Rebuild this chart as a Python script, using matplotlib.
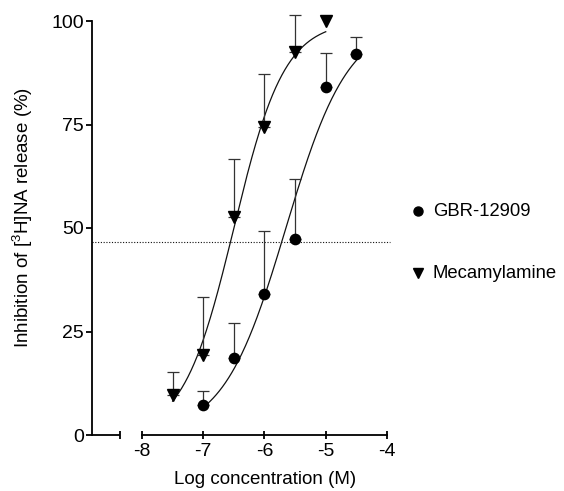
import numpy as np
import matplotlib
matplotlib.use('Agg')
import matplotlib.pyplot as plt
from matplotlib.lines import Line2D

plt.rcParams['font.family'] = ['Liberation Sans', 'DejaVu Sans']
plt.rcParams['mathtext.default'] = 'regular'

# ---- data ----
series_names = ['GBR-12909', 'Mecamylamine']
log_conc_gbr = [-7.0, -6.5, -6.0, -5.5, -5.0, -4.5]
gbr_mean = [7.2, 18.5, 34.0, 47.3, 84.0, 92.0]
gbr_sem = [3.5, 8.6, 15.3, 14.6, 8.2, 4.2]
log_conc_mec = [-7.5, -7.0, -6.5, -6.0, -5.5, -5.0]
mec_mean = [9.7, 19.3, 52.7, 74.5, 92.4, 100.0]
mec_sem = [5.6, 14.1, 14.0, 12.7, 9.1, 0.0]

# fitted sigmoid parameters: bottom, top, logEC50, Hill slope
gbr_fit = (0.0, 100.0, -5.65, 0.85)
mec_fit = (0.0, 100.0, -6.50, 1.05)
half_level = 46.7

x_ticks = [-8, -7, -6, -5, -4]
y_ticks = [0, 25, 50, 75, 100]
x_break = -8.36
x_left = -8.816


def sigmoid(x, p):
    b, t, ec, h = p
    return b + (t - b) / (1 + 10 ** ((ec - x) * h))


W, H = 564, 491
fig = plt.figure(figsize=(W / 100, H / 100), dpi=100)
ax = fig.add_axes([92 / W, (H - 435) / H, (387 - 92) / W, (435 - 21) / H])

ax.set_xlim(x_left, -4)
ax.set_ylim(0, 100)

ink = '#111111'
for xs, m, e, fit, mk, ms in [
    (log_conc_gbr, gbr_mean, gbr_sem, gbr_fit, 'o', 7.4),
    (log_conc_mec, mec_mean, mec_sem, mec_fit, 'v', 8.0),
]:
    xs = np.array(xs); m = np.array(m); e = np.array(e)
    xc = np.linspace(xs.min(), xs.max(), 200)
    ax.plot(xc, sigmoid(xc, fit), color=ink, lw=0.9, clip_on=False, zorder=2)
    sel = e > 0
    ax.errorbar(xs[sel], m[sel], yerr=[np.zeros(sel.sum()), e[sel]], fmt='none',
                ecolor='#333333', elinewidth=0.9, capsize=4, capthick=0.9,
                clip_on=False, zorder=2)
    ax.plot(xs, m, linestyle='none', marker=mk, markersize=ms, color='black',
            clip_on=False, zorder=3)

ax.plot([x_left, -3.95], [half_level, half_level], color=ink, lw=0.8,
        linestyle=(0, (1, 1.5)), clip_on=False, zorder=1)

# axes styling
for s in ['top', 'right']:
    ax.spines[s].set_visible(False)
for s in ['left', 'bottom']:
    ax.spines[s].set_linewidth(1.3)
    ax.spines[s].set_color('black')
ax.spines['bottom'].set_bounds(-8, -4)
ax.plot([x_left, x_break], [0, 0], color='black', lw=1.3, clip_on=False,
        solid_capstyle='butt', zorder=4)

ax.set_xticks([x_break] + x_ticks)
ax.set_xticklabels([''] + [str(v) for v in x_ticks])
ax.set_yticks(y_ticks)
ax.set_yticklabels([str(v) for v in y_ticks])
ax.tick_params(axis='x', direction='inout', length=6, width=1.3, labelsize=14, pad=3)
ax.tick_params(axis='y', direction='out', length=4, width=1.3, labelsize=14, pad=2)

fig.text(265 / W, 1 - 480 / H, 'Log concentration (M)', ha='center', va='center',
         fontsize=13.5)
fig.text(23 / W, 1 - 217 / H, 'Inhibition of [$^{3}$H]NA release (%)', ha='center',
         va='center', rotation=90, fontsize=13.5)

# legend
for name, mk, ms, yy in [(series_names[0], 'o', 6.5, 211), (series_names[1], 'v', 6.5, 273)]:
    fig.add_artist(Line2D([418 / W], [1 - yy / H], marker=mk, markersize=ms,
                          color='black', linestyle='none', transform=fig.transFigure))
    fig.text(433 / W, 1 - yy / H, name, ha='left', va='center', fontsize=13.3)

fig.savefig('out.png', dpi=100)
